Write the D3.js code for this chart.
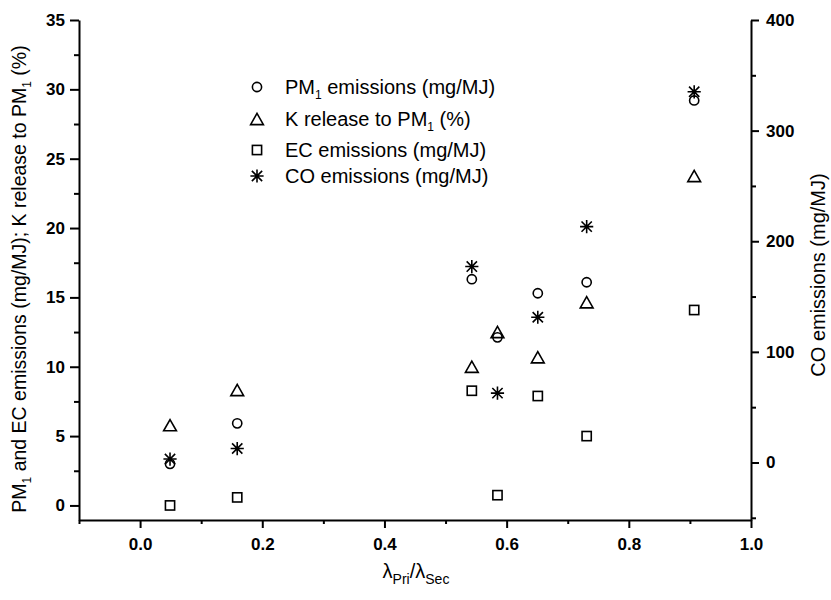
<!DOCTYPE html>
<html>
<head>
<meta charset="utf-8">
<script src="https://cdn.jsdelivr.net/npm/d3@7"></script>
<style>
  html, body { margin: 0; padding: 0; background: #fff; }
  svg { display: block; font-family: Arial, "Liberation Sans", sans-serif; }
  .tick text { font-weight: bold; font-size: 17px; fill: #000; }
  .axis path, .axis line { stroke: #000; stroke-width: 2; }
  .mark { fill: none; stroke: #000; stroke-width: 1.6; }
</style>
</head>
<body>
<svg id="chart" width="831" height="600"></svg>
<script>
// Primary/secondary air ratio for each run
const ratio = [0.049, 0.159, 0.543, 0.585, 0.651, 0.731, 0.907];
// Left axis series
const pm1Emission = [3.0, 5.92, 16.31, 12.12, 15.3, 16.09, 29.2];   // mg/MJ
const kRelease    = [5.79, 8.32, 10.0, 12.5, 10.68, 14.65, 23.75];  // %
const ecEmission  = [0.0, 0.58, 8.27, 0.74, 7.89, 5.0, 14.09];      // mg/MJ
// Right axis series
const coEmission  = [3.1, 12.6, 177.1, 62.7, 131.3, 213.2, 335.1];  // mg/MJ

// Tick values
const xMajor = [0.0, 0.2, 0.4, 0.6, 0.8, 1.0];
const xMinor = [-0.1, 0.1, 0.3, 0.5, 0.7, 0.9];
const yLeftMajor = [0, 5, 10, 15, 20, 25, 30, 35];
const yLeftMinor = [2.5, 7.5, 12.5, 17.5, 22.5, 27.5, 32.5];
const yRightMajor = [0, 100, 200, 300, 400];
const yRightMinor = [-50, 50, 150, 250, 350];

const legendItems = [
  { shape: "circle",   parts: [["PM", 0], ["1", 1], [" emissions (mg/MJ)", 0]] },
  { shape: "triangle", parts: [["K release to PM", 0], ["1", 1], [" (%)", 0]] },
  { shape: "square",   parts: [["EC emissions (mg/MJ)", 0]] },
  { shape: "star",     parts: [["CO emissions (mg/MJ)", 0]] }
];

const svg = d3.select("#chart");
const plot = { left: 79, right: 751, top: 20, bottom: 520 };

const x = d3.scaleLinear().domain([-0.1, 1.0]).range([plot.left, plot.right]);
const yL = d3.scaleLinear().domain([-1.05, 35]).range([plot.bottom, plot.top]);
const yR = d3.scaleLinear().domain([-52, 400]).range([plot.bottom, plot.top]);

// Axes: major ticks with labels, minor ticks unlabeled
function addAxis(gen, transform, major, minor, fmt, majorSize, minorSize, pad) {
  const g = svg.append("g").attr("class", "axis").attr("transform", transform);
  g.call(gen.tickValues(minor).tickSize(minorSize).tickSizeOuter(0).tickFormat(""));
  g.selectAll("text").remove();
  const g2 = svg.append("g").attr("class", "axis").attr("transform", transform);
  g2.call(gen.tickValues(major).tickSize(majorSize).tickSizeOuter(0).tickPadding(pad).tickFormat(fmt));
  g2.select(".domain").remove();
  return g2;
}
addAxis(d3.axisBottom(x), `translate(0,${plot.bottom})`, xMajor, xMinor, d3.format(".1f"), 8, 4, 10);
addAxis(d3.axisLeft(yL), `translate(${plot.left},0)`, yLeftMajor, yLeftMinor, d3.format("d"), 9, 5, 5);
addAxis(d3.axisRight(yR), `translate(${plot.right},0)`, yRightMajor, yRightMinor, d3.format("d"), 8, 5, 7);

// Marker shapes
function drawMarker(g, shape, cx, cy) {
  if (shape === "circle") {
    g.append("circle").attr("class", "mark").attr("cx", cx).attr("cy", cy).attr("r", 4.6);
  } else if (shape === "square") {
    g.append("rect").attr("class", "mark").attr("x", cx - 4.6).attr("y", cy - 4.6)
      .attr("width", 9.2).attr("height", 9.2);
  } else if (shape === "triangle") {
    const w = 6.4, h = 5.6;
    g.append("path").attr("class", "mark")
      .attr("d", `M${cx},${cy - h}L${cx + w},${cy + h}L${cx - w},${cy + h}Z`);
  } else if (shape === "star") {
    const r = 6.6, d = r * 0.78;
    g.append("path").attr("class", "mark").attr("stroke-width", 1.8)
      .attr("d", `M${cx},${cy - r}V${cy + r}M${cx - r},${cy}H${cx + r}` +
                 `M${cx - d},${cy - d}L${cx + d},${cy + d}M${cx - d},${cy + d}L${cx + d},${cy - d}`);
  }
}

const marks = svg.append("g");
const seriesList = [
  { values: pm1Emission, scale: yL, shape: "circle" },
  { values: kRelease,    scale: yL, shape: "triangle" },
  { values: ecEmission,  scale: yL, shape: "square" },
  { values: coEmission,  scale: yR, shape: "star" }
];
seriesList.forEach(s => {
  s.values.forEach((v, i) => drawMarker(marks, s.shape, x(ratio[i]), s.scale(v)));
});

// Legend
const legend = svg.append("g");
const legendRows = [87, 119, 150, 176];
legendItems.forEach((item, i) => {
  const ly = legendRows[i];
  drawMarker(legend, item.shape, 257, ly);
  const t = legend.append("text").attr("x", 285).attr("y", ly + 7)
    .attr("font-size", 20).attr("fill", "#000");
  item.parts.forEach(([s, sub], j) => {
    const ts = t.append("tspan").text(s);
    if (sub) ts.attr("font-size", 12).attr("dy", 5);
    else if (j > 0) ts.attr("dy", -5);
  });
});

// Axis titles
const leftTitle = svg.append("text")
  .attr("transform", `translate(26,279) rotate(-90)`)
  .attr("text-anchor", "middle").attr("font-size", 19.5).attr("fill", "#000");
[["PM", 0], ["1", 1], [" and EC emissions (mg/MJ); K release to PM", 0], ["1", 1], [" (%)", 0]]
  .forEach(([s, sub], i) => {
    const ts = leftTitle.append("tspan").text(s);
    if (sub) ts.attr("font-size", 12).attr("dy", 5);
    else if (i > 0) ts.attr("dy", -5);
  });

svg.append("text")
  .attr("transform", `translate(825,275) rotate(-90)`)
  .attr("text-anchor", "middle").attr("font-size", 20).attr("fill", "#000")
  .text("CO emissions (mg/MJ)");

const xTitle = svg.append("text")
  .attr("x", 416).attr("y", 578).attr("text-anchor", "middle")
  .attr("font-size", 20).attr("fill", "#000");
[["λ", 0], ["Pri", 1], ["/λ", 0], ["Sec", 1]].forEach(([s, sub], i) => {
  const ts = xTitle.append("tspan").text(s);
  if (sub) ts.attr("font-size", 14).attr("dy", 6);
  else if (i > 0) ts.attr("dy", -6);
});
</script>
</body>
</html>
